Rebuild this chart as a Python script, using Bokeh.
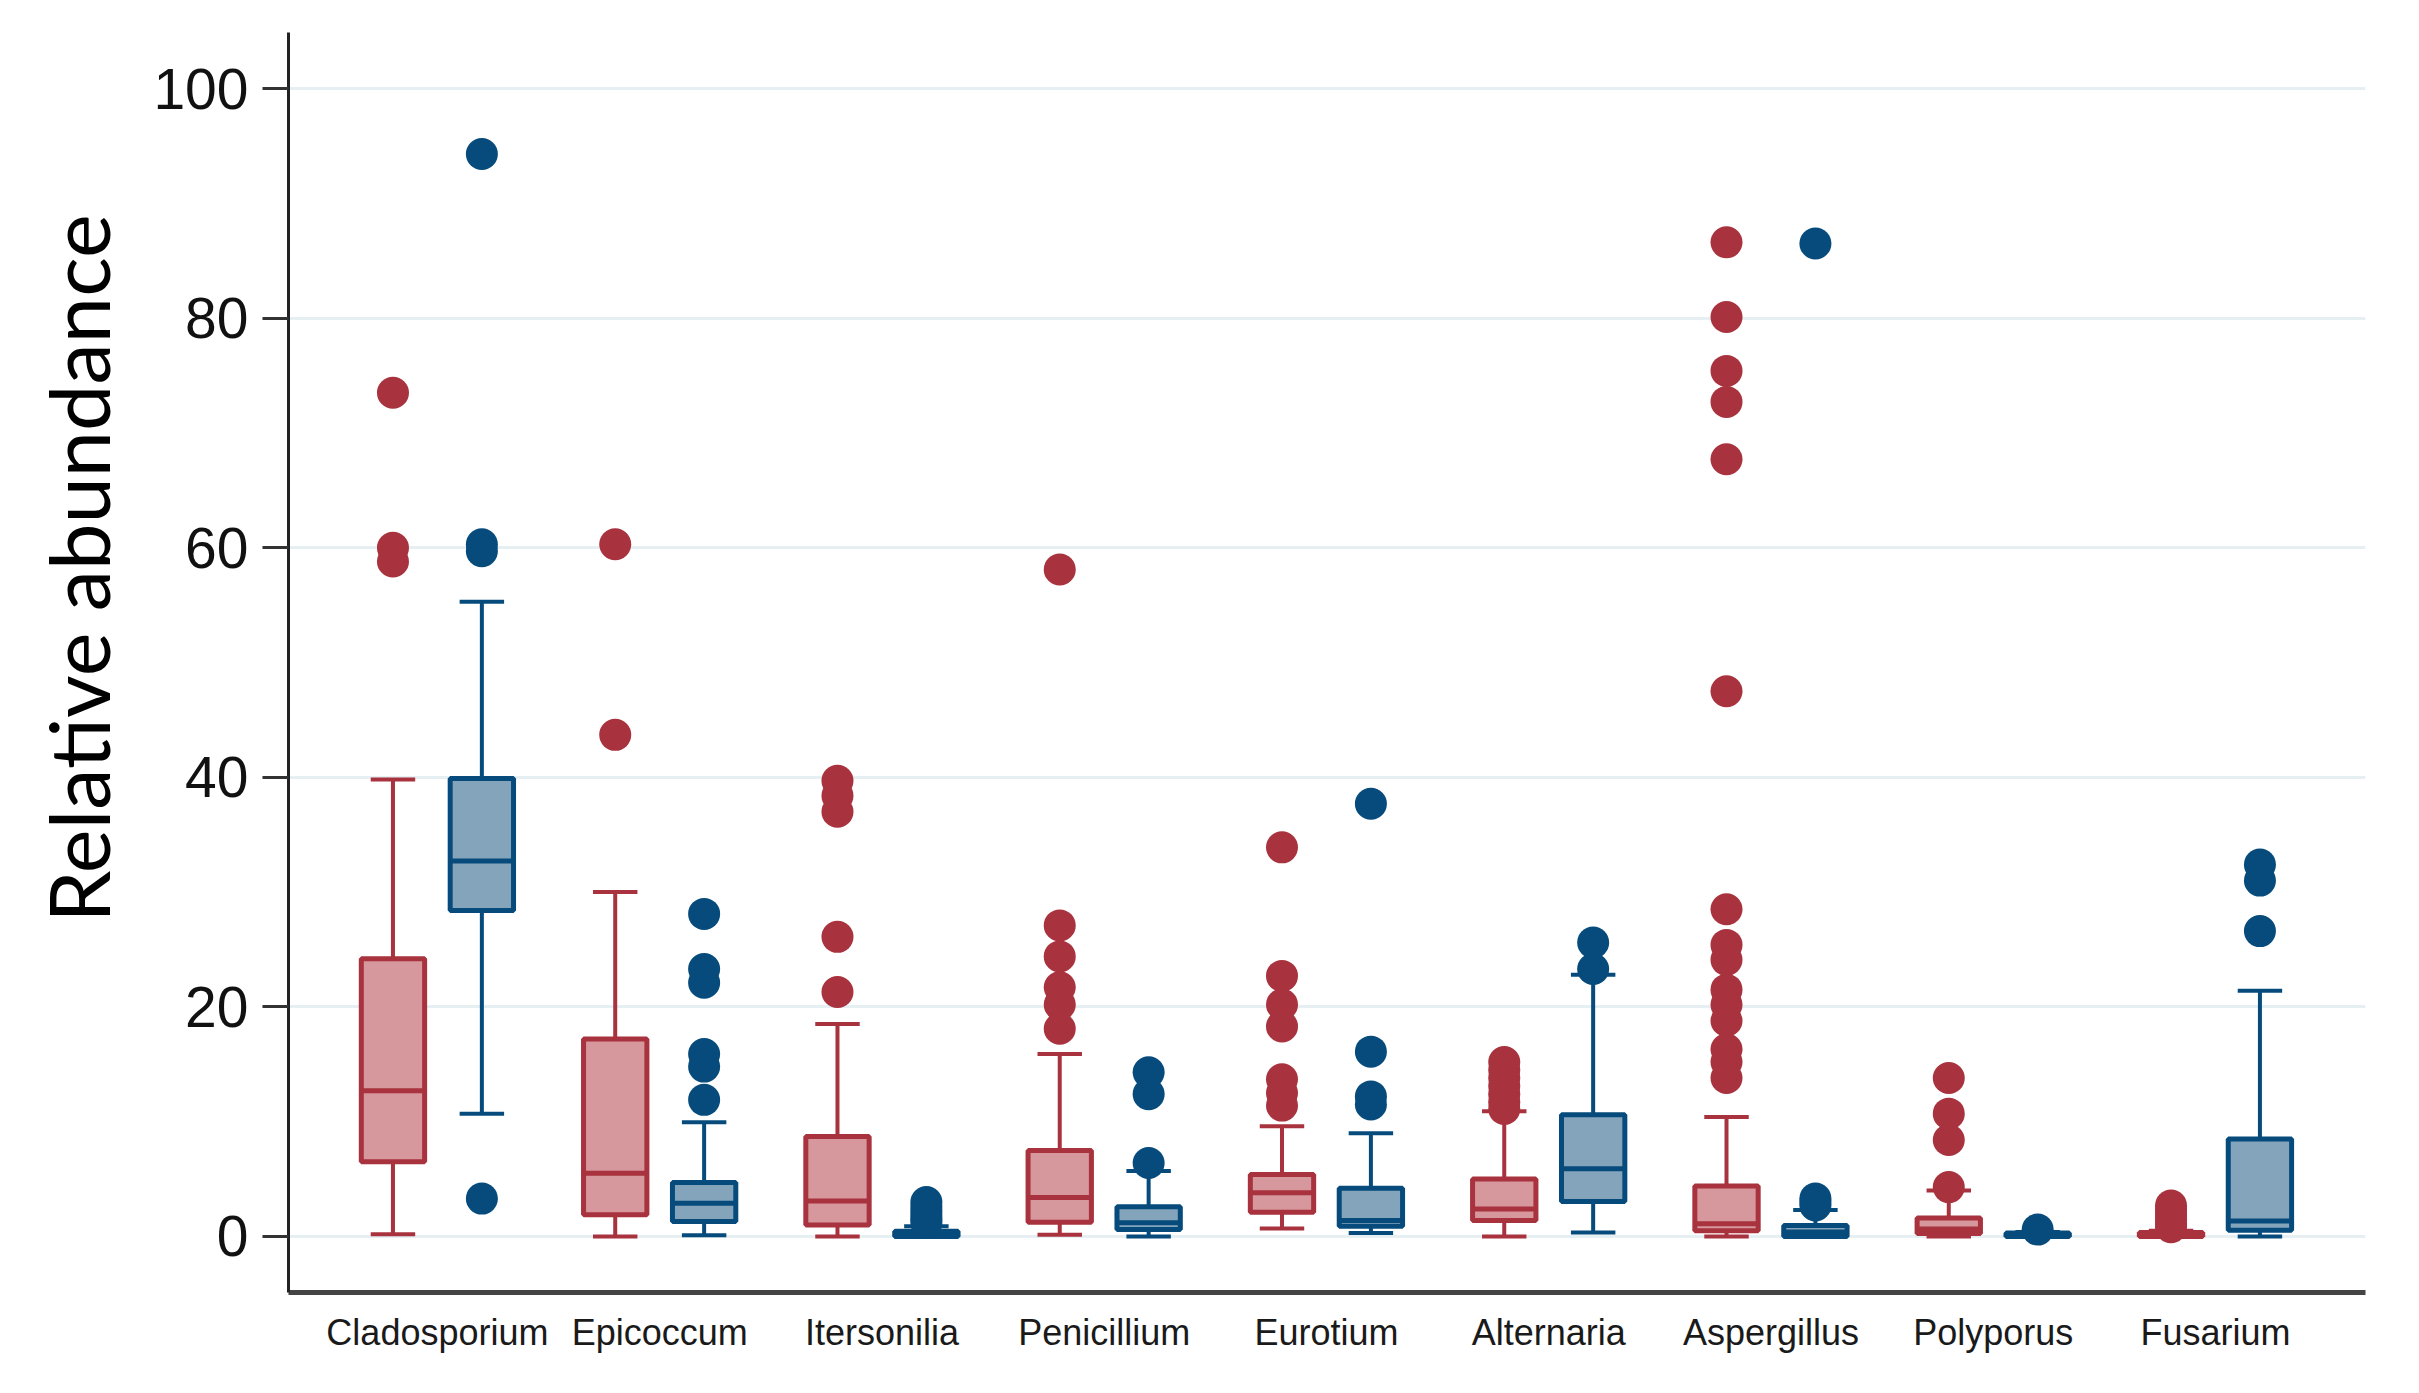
import numpy as np
from bokeh.plotting import figure
from bokeh.models import FixedTicker, Title, ColumnDataSource
from bokeh.embed import file_html
from bokeh.resources import INLINE

# ---- data ----
categories = ["Cladosporium", "Epicoccum", "Itersonilia", "Penicillium", "Eurotium",
              "Alternaria", "Aspergillus", "Polyporus", "Fusarium"]

# group 1 (red)
lo_a  = [0.2, 0.0, 0.0, 0.15, 0.7, 0.0, 0.0, 0.0, 0.0]
q1_a  = [6.5, 1.9, 1.0, 1.25, 2.1, 1.4, 0.5, 0.25, 0.0]
med_a = [12.7, 5.5, 3.1, 3.4, 3.8, 2.4, 1.1, 0.65, 0.1]
q3_a  = [24.2, 17.2, 8.7, 7.5, 5.4, 5.0, 4.4, 1.6, 0.35]
hi_a  = [39.8, 30.0, 18.5, 15.9, 9.6, 10.9, 10.4, 4.0, 0.5]
out_a = [
    [73.5, 60.0, 58.8],
    [60.3, 43.7],
    [39.7, 38.4, 37.0, 26.1, 21.3],
    [58.1, 27.1, 24.4, 21.7, 20.2, 18.1],
    [33.9, 22.7, 20.2, 18.3, 13.7, 12.5, 11.4],
    [15.2, 14.5, 13.8, 13.1, 12.4, 11.7, 11.1],
    [86.6, 80.1, 75.4, 72.7, 67.7, 47.5, 28.5, 25.4, 24.1, 21.5, 20.2, 18.8, 16.3, 15.2, 13.8],
    [13.8, 10.7, 8.4, 4.3],
    [2.7, 2.3, 1.9, 1.5, 1.1, 0.8],
]

# group 2 (blue)
lo_b  = [10.7, 0.1, 0.0, 0.0, 0.3, 0.35, 0.0, 0.0, 0.0]
q1_b  = [28.4, 1.3, 0.0, 0.6, 0.9, 3.05, 0.0, 0.0, 0.55]
med_b = [32.7, 2.9, 0.1, 1.2, 1.4, 5.9, 0.4, 0.1, 1.35]
q3_b  = [39.9, 4.7, 0.45, 2.6, 4.2, 10.6, 0.95, 0.3, 8.5]
hi_b  = [55.3, 9.96, 0.9, 5.7, 9.0, 22.8, 2.3, 0.4, 21.4]
out_b = [
    [94.3, 60.3, 59.7, 3.3],
    [28.1, 23.3, 22.1, 15.9, 14.8, 11.9],
    [3.0, 2.6, 2.2, 1.8, 1.5, 1.2],
    [14.3, 12.4, 6.4],
    [37.7, 16.1, 12.2, 11.5],
    [25.6, 23.3],
    [86.5, 3.3, 3.0, 2.7],
    [0.6],
    [32.4, 31.0, 26.6],
]

y_ticks = [0, 20, 40, 60, 80, 100]
y_title = "Relative abundance"

# ---- styles ----
RED, RED_FILL = "#a8323d", "#d6979d"
BLUE, BLUE_FILL = "#064b7b", "#84a4bc"
OFFSET = 0.2
BOX_W = 0.285
CAP_W = 0.2

p = figure(frame_width=2077, frame_height=1260,
           min_border_left=288, min_border_right=38, min_border_top=32, min_border_bottom=85,
           x_range=(0.33, 9.675), y_range=(-4.88, 104.88),
           output_backend="svg", toolbar_location=None)
p.background_fill_color = "white"
p.border_fill_color = "white"
p.outline_line_color = None

idx = np.arange(1, len(categories) + 1)


def draw_group(xs, lo, q1, med, q3, hi, outs, line_col, fill_col):
    src = ColumnDataSource(dict(x=xs, lo=lo, q1=q1, med=med, q3=q3, hi=hi,
                                cl=xs - CAP_W / 2, cr=xs + CAP_W / 2,
                                bl=xs - BOX_W / 2, br=xs + BOX_W / 2))
    # whiskers
    p.segment(x0="x", y0="q3", x1="x", y1="hi", source=src, line_color=line_col, line_width=4)
    p.segment(x0="x", y0="q1", x1="x", y1="lo", source=src, line_color=line_col, line_width=4)
    # caps
    p.segment(x0="cl", y0="hi", x1="cr", y1="hi", source=src, line_color=line_col, line_width=4)
    p.segment(x0="cl", y0="lo", x1="cr", y1="lo", source=src, line_color=line_col, line_width=4)
    # boxes
    p.vbar(x="x", width=BOX_W, bottom="q1", top="q3", source=src,
           fill_color=fill_col, line_color=line_col, line_width=5)
    # median
    p.segment(x0="bl", y0="med", x1="br", y1="med", source=src, line_color=line_col, line_width=5)
    # outliers
    ox, oy = [], []
    for xv, vals in zip(xs, outs):
        for v in vals:
            ox.append(xv)
            oy.append(v)
    p.scatter(ox, oy, size=32, fill_color=line_col, line_color=None)


draw_group(idx - OFFSET, lo_a, q1_a, med_a, q3_a, hi_a, out_a, RED, RED_FILL)
draw_group(idx + OFFSET, lo_b, q1_b, med_b, q3_b, hi_b, out_b, BLUE, BLUE_FILL)

# grid
p.xgrid.grid_line_color = None
p.ygrid.ticker = FixedTicker(ticks=y_ticks)
p.ygrid.grid_line_color = "#e6eff2"
p.ygrid.grid_line_width = 3

# y axis
ya = p.yaxis[0]
ya.ticker = FixedTicker(ticks=y_ticks)
ya.axis_line_color = "#222222"
ya.axis_line_width = 3
ya.major_tick_line_color = "#333333"
ya.major_tick_line_width = 3
ya.major_tick_out = 26
ya.major_tick_in = 0
ya.minor_tick_line_color = None
ya.major_label_standoff = 14
ya.major_label_text_font = "Liberation Sans"
ya.major_label_text_font_size = "57px"
ya.major_label_text_color = "#111111"

# x axis
xa = p.xaxis[0]
xa.ticker = FixedTicker(ticks=list(idx))
xa.major_label_overrides = {int(i): c for i, c in zip(idx, categories)}
xa.axis_line_color = "#444444"
xa.axis_line_width = 5
xa.major_tick_line_color = None
xa.minor_tick_line_color = None
xa.major_label_standoff = 13
xa.major_label_text_font = "Liberation Sans"
xa.major_label_text_font_size = "36px"
xa.major_label_text_color = "#1a1a1a"

# y label
t = Title(text=y_title, align="left", offset=370,
          text_font="Lato", text_font_size="83px", text_font_style="normal",
          text_color="#000000", standoff=45)
p.add_layout(t, "left")

open("out.html", "w").write(file_html(p, INLINE))
